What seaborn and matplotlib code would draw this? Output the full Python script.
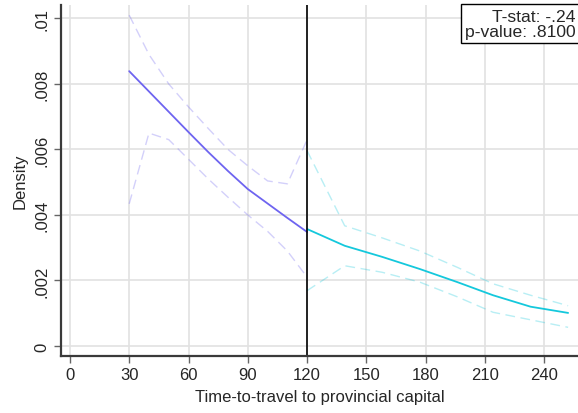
import numpy as np
import pandas as pd
import matplotlib.pyplot as plt
import seaborn as sns

sns.set_style("white")
plt.rcParams['font.family'] = ['Liberation Sans', 'DejaVu Sans']

# below-cutoff side (purple)
x_left = [30, 40, 50, 60, 70, 80, 90, 100, 110, 120]
fit_left = [0.00839, 0.00777, 0.00715, 0.00653, 0.00592, 0.00534, 0.00479, 0.00435, 0.00391, 0.00348]
lo_left = [0.00434, 0.0065, 0.0063, 0.0057, 0.0051, 0.00454, 0.0040, 0.0035, 0.0029, 0.0021]
hi_left = [0.0101, 0.0089, 0.0080, 0.0073, 0.00664, 0.0060, 0.0055, 0.00504, 0.00495, 0.0063]

# above-cutoff side (cyan)
x_right = [120, 139, 158, 177, 196, 214, 233, 252]
fit_right = [0.00357, 0.00306, 0.00272, 0.00235, 0.00195, 0.00155, 0.0012, 0.00101]
lo_right = [0.00169, 0.00245, 0.00225, 0.00195, 0.0015, 0.00103, 0.0008, 0.00057]
hi_right = [0.00596, 0.00367, 0.0033, 0.0029, 0.0024, 0.0019, 0.00155, 0.00123]

cutoff = 120
xticks = [0, 30, 60, 90, 120, 150, 180, 210, 240]
yticks = [0, 0.002, 0.004, 0.006, 0.008, 0.01]
ytick_labels = ["0", ".002", ".004", ".006", ".008", ".01"]
stat_text = "T-stat: -.24\np-value: .8100"

purple = "#6E64F0"
cyan = "#14C8DC"

fig = plt.figure(figsize=(5.78, 4.14), dpi=100)
ax = fig.add_axes([0.1055, 0.1377, 0.8945, 0.8478])

for xs, fit, lo, hi, col in [(x_left, fit_left, lo_left, hi_left, purple),
                             (x_right, fit_right, lo_right, hi_right, cyan)]:
    df = pd.DataFrame({"x": xs, "fit": fit, "lo": lo, "hi": hi})
    sns.lineplot(data=df, x="x", y="fit", color=col, lw=1.3, ax=ax)
    sns.lineplot(data=df, x="x", y="lo", color=col, lw=1.0, alpha=0.3, ax=ax,
                 dashes=False, linestyle=(0, (7, 4)))
    sns.lineplot(data=df, x="x", y="hi", color=col, lw=1.0, alpha=0.3, ax=ax,
                 dashes=False, linestyle=(0, (7, 4)))

ax.axvline(cutoff, color="black", lw=1.2)

ax.set_xlim(-4.5, 257)
ax.set_ylim(-0.000305, 0.01041)
ax.set_xticks(xticks)
ax.set_xticklabels([str(t) for t in xticks])
ax.set_yticks(yticks)
ax.set_yticklabels(ytick_labels, rotation=90, va="center")
ax.grid(True, color="#e2e2e2", lw=1.2)
ax.set_axisbelow(True)

for s in ["top", "right"]:
    ax.spines[s].set_visible(False)
for s in ["left", "bottom"]:
    ax.spines[s].set_color("#3a3a3a")
    ax.spines[s].set_linewidth(1.6)
ax.tick_params(axis="both", which="major", length=5, width=1.0, color="#666666",
               labelsize=12, direction="out", pad=3)
ax.tick_params(bottom=True, left=True)

ax.set_xlabel("Time-to-travel to provincial capital", fontsize=12, labelpad=5)
ax.set_ylabel("Density", fontsize=12, labelpad=5)

ax.text(0.996, 0.99, stat_text, transform=ax.transAxes, ha="right", va="top",
        fontsize=12.6, linespacing=1.02,
        bbox=dict(boxstyle="square,pad=0.24", fc="white", ec="black", lw=1.0))

fig.savefig("out.png", dpi=100)
